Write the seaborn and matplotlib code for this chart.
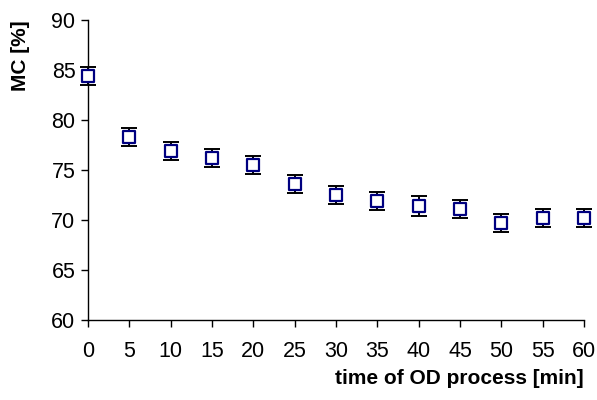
import seaborn as sns
import matplotlib.pyplot as plt
import pandas as pd

# data
time_min = [0, 5, 10, 15, 20, 25, 30, 35, 40, 45, 50, 55, 60]
mc_mean = [84.4, 78.3, 76.9, 76.2, 75.5, 73.6, 72.5, 71.9, 71.4, 71.1, 69.7, 70.2, 70.2]
mc_err = [0.9, 0.9, 0.9, 0.9, 0.9, 0.9, 0.9, 0.9, 1.0, 0.9, 0.9, 0.9, 0.9]

df = pd.DataFrame({"time": time_min, "mc": mc_mean, "err": mc_err})

sns.set_theme(style="ticks", rc={"text.color": "black", "axes.labelcolor": "black"})
plt.rcParams['font.family'] = ['Liberation Sans', 'DejaVu Sans']

fig = plt.figure(figsize=(5.97, 4.0), dpi=100)
ax = fig.add_axes([88/597, 80/400, (584-88)/597, 300/400])

eb = ax.errorbar(df["time"], df["mc"], yerr=df["err"], fmt="none", ecolor="black",
                 elinewidth=1.4, capsize=5.5, capthick=1.4, zorder=2)
for part in eb.lines[1] + eb.lines[2]:
    part.set_clip_on(False)
sns.scatterplot(data=df, x="time", y="mc", marker="s", s=68, color="white",
                edgecolor="#000080", linewidth=1.6, ax=ax, zorder=3, clip_on=False)

ax.set_xlim(0, 60)
ax.set_ylim(60, 90)
ax.set_xticks(range(0, 61, 5))
ax.set_yticks(range(60, 91, 5))
ax.tick_params(axis="both", labelsize=15.5, length=5, width=1, color="black",
               labelcolor="black", direction="out")
ax.tick_params(axis="x", pad=10)
ax.tick_params(axis="y", pad=4)
for s in ["left", "bottom"]:
    ax.spines[s].set_linewidth(1)
    ax.spines[s].set_color("black")
sns.despine(ax=ax)

ax.set_xlabel("time of OD process [min]", fontsize=15, fontweight="bold", loc="right")
ax.set_ylabel("MC [%]", fontsize=15, fontweight="bold", loc="top")
ax.xaxis.set_label_coords(1.0, -0.165)
ax.yaxis.set_label_coords(-0.116, 1.0)

fig.savefig("out.png", dpi=100)
